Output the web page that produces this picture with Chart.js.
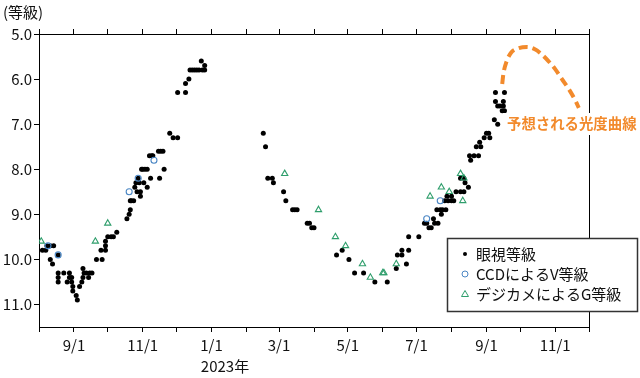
<!DOCTYPE html>
<html>
<head>
<meta charset="utf-8">
<script src="https://cdn.jsdelivr.net/npm/chart.js@4.4.1/dist/chart.umd.min.js"></script>
<style>
  html, body { margin: 0; padding: 0; background: #fff; }
</style>
</head>
<body>
<canvas id="chart" width="640" height="378"></canvas>
<script>
const FONT = '"Noto Sans CJK JP", "Noto Sans", sans-serif';

// x values are days counted from 2023-08-01
const tickDays = [0, 31, 61, 92, 122, 153, 184, 213, 244, 274, 305, 335, 366, 397, 427, 458, 488];
const tickLabels = ["", "9/1", "", "11/1", "", "1/1", "", "3/1", "", "5/1", "", "7/1", "", "9/1", "", "11/1", ""];

// Visual magnitudes
const visualDays = [
  3, 6, 7, 10, 13, 10, 12, 17, 17, 22, 27, 17, 27, 29, 17, 25, 29, 30, 30, 33, 34,
  36, 38, 39, 40, 39, 42, 45, 47, 44, 51, 56, 55, 59, 59, 59, 61, 64, 66, 69,
  78, 80, 81, 81, 82, 84, 86, 89, 88, 87, 90, 90, 85, 93, 96, 99, 91, 92, 94, 96,
  107, 111, 98, 100, 101, 106, 108, 110, 116, 119, 123,
  123, 130, 130, 133, 134, 136, 138, 140, 142, 145, 147, 144, 147,
  199, 201, 203, 207, 208, 217, 219, 225, 227, 229, 238, 240, 242, 244,
  264, 269, 275, 280, 288, 298, 309, 317, 318, 322, 322, 328, 326, 328, 337,
  342, 344, 346, 348, 350, 351, 354, 353, 356, 358, 361, 357,
  360, 363, 366, 368, 362, 366, 370, 374, 377, 381, 374, 377, 378,
  382, 386, 390, 383, 388, 392, 391, 395, 397, 399, 400, 404, 407,
  405, 413, 405, 407, 409, 412, 412, 411, 413
];
const visualMags = [
  9.8, 9.8, 9.7, 9.7, 9.7, 10.0, 10.1, 9.9, 10.3, 10.3, 10.3, 10.4, 10.4, 10.4, 10.5, 10.5, 10.5, 10.6, 10.7, 10.8, 10.9,
  10.6, 10.5, 10.4, 10.3, 10.2, 10.3, 10.3, 10.3, 10.4, 10.0, 10.0, 9.8, 9.8, 9.7, 9.6, 9.5, 9.5, 9.5, 9.4,
  9.1, 9.0, 8.9, 8.7, 8.7, 8.7, 8.3, 8.3, 8.2, 8.5, 8.5, 8.6, 8.4, 8.3, 8.4, 8.2, 8.0, 8.0, 8.0, 8.0,
  8.2, 8.0, 7.7, 7.7, 7.7, 7.6, 7.6, 7.6, 7.2, 7.3, 7.3,
  6.3, 6.3, 6.1, 6.0, 5.8, 5.8, 5.8, 5.8, 5.8, 5.8, 5.8, 5.6, 5.7,
  7.2, 7.5, 8.2, 8.2, 8.3, 8.5, 8.7, 8.9, 8.9, 8.9, 9.2, 9.2, 9.3, 9.3,
  9.9, 9.8, 10.0, 10.3, 10.3, 10.5, 10.5, 10.2, 9.9, 9.9, 9.8, 9.8, 10.1, 9.5, 9.5,
  9.2, 9.2, 9.3, 9.3, 9.1, 9.2, 9.2, 8.9, 8.9, 8.9, 8.9, 9.0,
  8.7, 8.7, 8.7, 8.7, 8.6, 8.6, 8.5, 8.5, 8.5, 8.4, 8.2, 8.2, 8.3,
  7.7, 7.7, 7.7, 7.8, 7.5, 7.5, 7.4, 7.3, 7.2, 7.2, 7.3, 6.9, 7.0,
  6.3, 6.3, 6.5, 6.6, 6.6, 6.5, 6.6, 6.7, 6.7
];

// CCD V magnitudes
const ccdDays = [8, 17, 80, 88, 102, 344, 356];
const ccdMags = [9.7, 9.9, 8.5, 8.2, 7.8, 9.1, 8.7];

// Digital camera G magnitudes
const dslrDays = [2, 50, 61, 218, 248, 263, 272, 287, 294, 305, 306, 317, 347, 357, 364, 374, 377, 376];
const dslrMags = [9.6, 9.6, 9.2, 8.1, 8.9, 9.5, 9.7, 10.1, 10.4, 10.3, 10.3, 10.1, 8.6, 8.4, 8.5, 8.1, 8.2, 8.7];

// Predicted light curve
const forecastDays = [411, 412, 415, 419, 425, 433, 440, 446, 452, 458, 464, 470, 476, 479];
const forecastMags = [6.11, 5.89, 5.60, 5.41, 5.32, 5.29, 5.34, 5.45, 5.60, 5.78, 6.00, 6.22, 6.48, 6.64];

const legendLabels = ["眼視等級", "CCDによるV等級", "デジカメによるG等級"];
const yUnitLabel = "(等級)";
const yearLabel = "2023年";
const forecastLabel = "予想される光度曲線";

const BLUE = "#4a86c4";
const GREEN = "#2f9e6c";
const ORANGE = "#f28a2c";

const pts = (xs, ys) => xs.map((x, i) => ({ x: x, y: ys[i] }));

// Marker drawing used by the legend box
function marker(ctx, kind, x, y) {
  ctx.save();
  if (kind === 0) {
    ctx.fillStyle = "#000";
    ctx.beginPath(); ctx.arc(x, y, 2, 0, Math.PI * 2); ctx.fill();
  } else if (kind === 1) {
    ctx.strokeStyle = BLUE; ctx.lineWidth = 1;
    ctx.beginPath(); ctx.arc(x, y, 3, 0, Math.PI * 2); ctx.stroke();
  } else {
    ctx.strokeStyle = GREEN; ctx.lineWidth = 1;
    ctx.beginPath(); ctx.moveTo(x, y - 3.5); ctx.lineTo(x + 3.5, y + 2.5); ctx.lineTo(x - 3.5, y + 2.5); ctx.closePath(); ctx.stroke();
  }
  ctx.restore();
}

const overlay = {
  id: "overlay",
  afterDraw(chart) {
    const ctx = chart.ctx;
    const a = chart.chartArea;
    ctx.save();
    // right frame line
    ctx.strokeStyle = "#000"; ctx.lineWidth = 1;
    ctx.beginPath(); ctx.moveTo(a.right + 0.5, a.top); ctx.lineTo(a.right + 0.5, a.bottom); ctx.stroke();

    // forecast annotation
    ctx.fillStyle = "#fff";
    ctx.fillRect(503, 113, 137, 22);
    ctx.font = "bold 14.4px " + FONT;
    ctx.fillStyle = ORANGE;
    ctx.textAlign = "left"; ctx.textBaseline = "middle";
    ctx.fillText(forecastLabel, 507, 124);

    // legend box
    ctx.fillStyle = "#fff";
    ctx.fillRect(447, 238, 191, 74);
    ctx.strokeStyle = "#333"; ctx.lineWidth = 1.5;
    ctx.strokeRect(447.5, 238.5, 190, 73);
    ctx.font = "15px " + FONT;
    const rows = [254, 274, 294];
    legendLabels.forEach((t, i) => {
      marker(ctx, i, 465, rows[i]);
      ctx.fillStyle = "#111";
      ctx.fillText(t, 476, rows[i]);
    });

    // unit and year labels
    ctx.font = "15px " + FONT;
    ctx.fillStyle = "#111";
    ctx.textAlign = "left";
    ctx.fillText(yUnitLabel, 3, 12);
    ctx.textAlign = "center";
    ctx.fillText(yearLabel, 225, 366);
    ctx.restore();
  }
};

const tickFont = { family: FONT, size: 15 };

new Chart(document.getElementById("chart"), {
  type: "scatter",
  data: {
    datasets: [
      { label: legendLabels[2], data: pts(dslrDays, dslrMags), order: 1, pointStyle: "triangle",
        pointRadius: 3.6, backgroundColor: "rgba(0,0,0,0)", borderColor: GREEN, borderWidth: 1.1 },
      { label: legendLabels[1], data: pts(ccdDays, ccdMags), order: 2, pointStyle: "circle",
        pointRadius: 3, backgroundColor: "rgba(0,0,0,0)", borderColor: BLUE, borderWidth: 1.1 },
      { label: legendLabels[0], data: pts(visualDays, visualMags), order: 3, pointStyle: "circle",
        pointRadius: 2.5, backgroundColor: "#000", borderWidth: 0 },
      { label: forecastLabel, type: "line", data: pts(forecastDays, forecastMags), order: 4,
        showLine: true, borderColor: ORANGE, borderWidth: 4, borderDash: [9, 5], pointRadius: 0,
        tension: 0.4, cubicInterpolationMode: "monotone", fill: false }
    ]
  },
  options: {
    responsive: false,
    animation: false,
    devicePixelRatio: 1,
    layout: { padding: { left: 0, right: 51, top: 0, bottom: 0 } },
    plugins: { legend: { display: false }, tooltip: { enabled: false } },
    scales: {
      x: {
        type: "linear", position: "bottom", min: 0, max: 488,
        afterBuildTicks: s => { s.ticks = tickDays.map(v => ({ value: v })); },
        afterFit: s => { s.height = 51; },
        ticks: { autoSkip: false, maxRotation: 0, padding: 4, color: "#111", font: tickFont,
          callback: v => tickLabels[tickDays.indexOf(v)] },
        grid: { drawOnChartArea: false, tickLength: 5, color: "#000" },
        border: { color: "#000", width: 1 }
      },
      xTop: {
        type: "linear", position: "top", min: 0, max: 488,
        afterBuildTicks: s => { s.ticks = tickDays.map(v => ({ value: v })); },
        afterFit: s => { s.height = 34; },
        ticks: { autoSkip: false, maxRotation: 0, font: tickFont, callback: () => "" },
        grid: { drawOnChartArea: false, tickLength: 5, color: "#000" },
        border: { color: "#000", width: 1 }
      },
      y: {
        reverse: true, min: 5, max: 11.5,
        afterFit: s => { s.width = 39; },
        ticks: { stepSize: 1, includeBounds: false, padding: 2, color: "#111", font: tickFont,
          callback: v => v.toFixed(1) },
        grid: { drawOnChartArea: false, tickLength: 5, color: "#000" },
        border: { color: "#000", width: 1 }
      }
    }
  },
  plugins: [overlay]
});
</script>
</body>
</html>
